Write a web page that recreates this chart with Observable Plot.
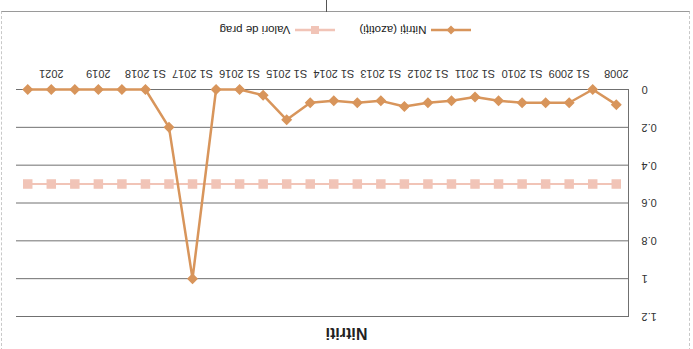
<!DOCTYPE html>
<html>
<head>
<meta charset="utf-8">
<script src="https://cdn.jsdelivr.net/npm/d3@7"></script>
<script src="https://cdn.jsdelivr.net/npm/@observablehq/plot@0.6"></script>
<style>
  html, body { margin: 0; padding: 0; background: #fff; }
  #chart {
    position: relative; width: 693px; height: 349px; overflow: hidden;
    background: #fff; transform: rotate(180deg);
    font-family: "Liberation Sans", Arial, sans-serif; color: #333;
  }
  #title {
    position: absolute; left: 0; top: 0; width: 693px; height: 28px;
    line-height: 32px; text-align: center; font-weight: bold; font-size: 16px; color: #222;
  }
  #plot { position: absolute; left: 0; top: 28px; }
  #legend {
    position: absolute; left: 0; top: 310px; width: 693px; height: 18px;
    display: flex; justify-content: center; align-items: center; gap: 22px;
    font-size: 11.5px; color: #222;
  }
  .item { display: flex; align-items: center; gap: 3px; }
  #frame {
    position: absolute; left: 3px; top: -2px; width: 689px; height: 340px; box-sizing: border-box;
    border-left: 1px dashed #c8c8c8; border-right: 1px dashed #c8c8c8; border-bottom: 1px solid #9a9a9a;
  }
  #tick { position: absolute; left: 366px; top: 337px; width: 1px; height: 12px; background: #555; }
</style>
</head>
<body>
<div id="chart">
  <div id="frame"></div>
  <div id="tick"></div>
  <div id="title">Nitriti</div>
  <div id="plot"></div>
  <div id="legend"></div>
</div>
<script>
// Sampling periods (semesters, then yearly)
const periods = ["2008", "S2 2008", "S1 2009", "S2 2009", "S1 2010", "S2 2010", "S1 2011", "S2 2011",
  "S1 2012", "S2 2012", "S1 2013", "S2 2013", "S1 2014", "S2 2014", "S1 2015", "S2 2015",
  "S1 2016", "S2 2016", "S1 2017", "S2 2017", "S1 2018", "S2 2018", "2019", "2020", "2021", "2022"];

// Labels shown on the category axis
const xLabels = ["2008", "S1 2009", "S1 2010", "S1 2011", "S1 2012", "S1 2013", "S1 2014",
  "S1 2015", "S1 2016", "S1 2017", "S1 2018", "2019", "2021"];

// Nitrite concentrations (mg/L)
const nitriti = [0.08, 0, 0.07, 0.07, 0.07, 0.06, 0.04, 0.06, 0.07, 0.09, 0.06, 0.07, 0.06,
  0.07, 0.16, 0.03, 0, 0, 1.0, 0.2, 0, 0, 0, 0, 0, 0];

// Threshold values
const prag = [0.5, 0.5, 0.5, 0.5, 0.5, 0.5, 0.5, 0.5, 0.5, 0.5, 0.5, 0.5, 0.5,
  0.5, 0.5, 0.5, 0.5, 0.5, 0.5, 0.5, 0.5, 0.5, 0.5, 0.5, 0.5, 0.5];

const yTicks = [0, 0.2, 0.4, 0.6, 0.8, 1, 1.2];

const seriesNames = ["Nitriți (azotiți)", "Valori de prag"];

const orange = "#d8955b";
const pink = "#f1c4b7";

const rows = periods.map((p, i) => ({period: p, nitriti: nitriti[i], prag: prag[i]}));

const chart = Plot.plot({
  width: 693,
  height: 282,
  marginLeft: 64,
  marginRight: 16,
  marginTop: 4,
  marginBottom: 51,
  style: {fontFamily: "'Liberation Sans', Arial, sans-serif", fontSize: "11px", color: "#333", background: "transparent", overflow: "visible"},
  x: {type: "point", domain: periods, padding: 0.52, round: false, label: null, ticks: xLabels, tickSize: 0, tickPadding: 12},
  y: {domain: [0, 1.2], ticks: yTicks, tickFormat: d => String(+d.toFixed(1)), label: null, tickSize: 0, tickPadding: 13},
  marks: [
    Plot.gridY(yTicks, {stroke: "#707070", strokeOpacity: 1}),
    Plot.frame({anchor: "left", stroke: "#707070"}),
    Plot.line(rows, {x: "period", y: "prag", stroke: pink, strokeWidth: 2}),
    Plot.dot(rows, {x: "period", y: "prag", symbol: "square", r: 4.5, fill: pink, stroke: pink}),
    Plot.line(rows, {x: "period", y: "nitriti", stroke: orange, strokeWidth: 2.5}),
    Plot.dot(rows, {x: "period", y: "nitriti", symbol: "diamond2", r: 4, fill: orange, stroke: orange})
  ]
});
document.getElementById("plot").appendChild(chart);

// Legend: line-with-marker swatches
const legend = d3.select("#legend");
const swatches = [
  {name: seriesNames[0], color: orange, shape: "diamond"},
  {name: seriesNames[1], color: pink, shape: "square"}
];
for (const s of swatches) {
  const item = legend.append("div").attr("class", "item");
  const svg = item.append("svg").attr("width", 44).attr("height", 12);
  svg.append("line").attr("x1", 2).attr("x2", 42).attr("y1", 6).attr("y2", 6)
    .attr("stroke", s.color).attr("stroke-width", 2.5);
  if (s.shape === "diamond") {
    svg.append("path").attr("d", "M22,1.5L26.5,6L22,10.5L17.5,6Z").attr("fill", s.color);
  } else {
    svg.append("rect").attr("x", 18).attr("y", 2).attr("width", 8).attr("height", 8).attr("fill", s.color);
  }
  item.append("span").text(s.name);
}
</script>
</body>
</html>
